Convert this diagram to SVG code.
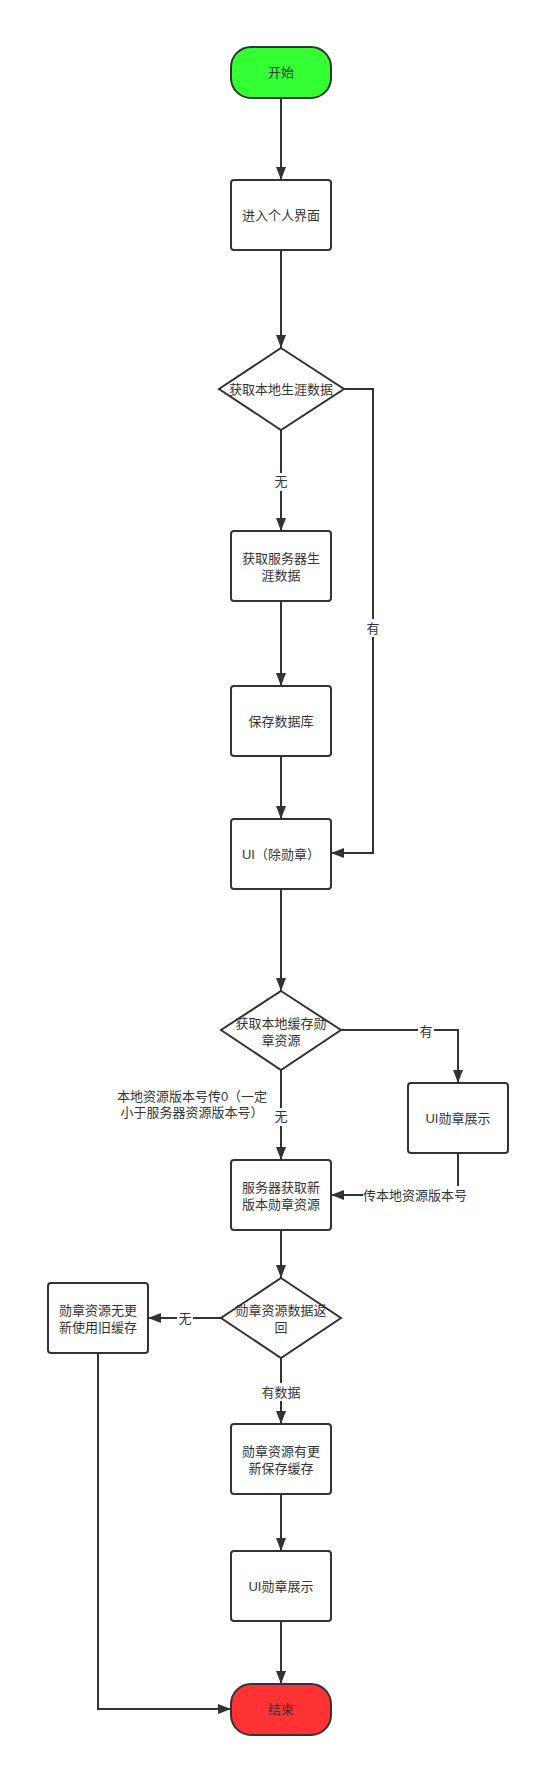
<svg xmlns="http://www.w3.org/2000/svg" width="539" height="1766" viewBox="0 0 539 1766">
<style>
.n{fill:#fff;stroke:#333;stroke-width:2}
.t{font-family:"Liberation Sans","Noto Sans CJK SC",sans-serif;font-size:13px;fill:#333;text-anchor:middle;dominant-baseline:central}
.c{fill:none;stroke:#333;stroke-width:2}
.lb{fill:#fff}
</style>
<defs>
<marker id="a" markerWidth="10" markerHeight="10" viewBox="0 0 10 10" refX="10" refY="5" orient="auto" markerUnits="userSpaceOnUse">
<path d="M0,0 L10,5 L0,10 Z" fill="#333"/>
</marker>
<marker id="ah" markerWidth="13" markerHeight="10" viewBox="0 0 13 10" refX="13" refY="5" orient="auto" markerUnits="userSpaceOnUse">
<path d="M0,0 L13,5 L0,10 Z" fill="#333"/>
</marker>
</defs>
<rect width="539" height="1766" fill="#fff"/>
<g id="connectors">
<path class="c" marker-end="url(#ah)" d="M281,98 V180"/>
<path class="c" marker-end="url(#ah)" d="M281,250 V348"/>
<path class="c" marker-end="url(#ah)" d="M281,430 V531"/>
<path class="c" marker-end="url(#ah)" d="M344,389 H373 V853 H331"/>
<path class="c" marker-end="url(#ah)" d="M281,601 V686"/>
<path class="c" marker-end="url(#ah)" d="M281,756 V819"/>
<path class="c" marker-end="url(#ah)" d="M281,889 V991"/>
<path class="c" marker-end="url(#ah)" d="M341,1030 H458 V1083"/>
<path class="c" marker-end="url(#ah)" d="M281,1070 V1160"/>
<path class="c" marker-end="url(#ah)" d="M458,1153 V1195 H331"/>
<path class="c" marker-end="url(#ah)" d="M281,1230 V1278"/>
<path class="c" marker-end="url(#ah)" d="M221,1318 H148"/>
<path class="c" marker-end="url(#ah)" d="M281,1358 V1424"/>
<path class="c" marker-end="url(#ah)" d="M281,1494 V1551"/>
<path class="c" marker-end="url(#ah)" d="M281,1621 V1684"/>
<path class="c" marker-end="url(#ah)" d="M98,1353 V1709 H231"/>
<rect class="lb" x="273" y="473" width="16" height="18"/>
<text class="t" x="281" y="481">无</text>
<rect class="lb" x="365" y="619" width="16" height="18"/>
<text class="t" x="373" y="628">有</text>
<rect class="lb" x="418" y="1022" width="16" height="18"/>
<text class="t" x="426" y="1031">有</text>
<rect class="lb" x="273" y="1108" width="16" height="18"/>
<text class="t" x="281" y="1116">无</text>
<text class="t" x="192" y="1096">本地资源版本号传0（一定</text>
<text class="t" x="192" y="1112">小于服务器资源版本号）</text>
<rect class="lb" x="363" y="1186" width="104" height="18"/>
<text class="t" x="415" y="1195">传本地资源版本号</text>
<rect class="lb" x="177" y="1309" width="16" height="18"/>
<text class="t" x="185" y="1318">无</text>
<rect class="lb" x="261" y="1383" width="40" height="18"/>
<text class="t" x="281" y="1392">有数据</text>
</g>
<g id="start"><rect x="231" y="47" width="100" height="51" rx="20" fill="#33ff33" stroke="#333" stroke-width="2"/><text class="t" x="281" y="72.5">开始</text></g>
<g id="enter"><rect class="n" x="231" y="180" width="100" height="70" rx="3"/><text class="t" x="281" y="215">进入个人界面</text></g>
<g id="d1"><path class="n" d="M281,348 L344,389 L281,430 L219,389 Z"/><text class="t" x="281" y="389">获取本地生涯数据</text></g>
<g id="server"><rect class="n" x="231" y="531" width="100" height="70" rx="3"/><text class="t" x="281" y="558">获取服务器生</text><text class="t" x="281" y="575">涯数据</text></g>
<g id="savedb"><rect class="n" x="231" y="686" width="100" height="70" rx="3"/><text class="t" x="281" y="721">保存数据库</text></g>
<g id="ui1"><rect class="n" x="231" y="819" width="100" height="70" rx="3"/><text class="t" x="281" y="854">UI（除勋章）</text></g>
<g id="d2"><path class="n" d="M281,991 L341,1030 L281,1070 L221,1030 Z"/><text class="t" x="281" y="1023">获取本地缓存勋</text><text class="t" x="281" y="1040">章资源</text></g>
<g id="uimedal"><rect class="n" x="408" y="1083" width="100" height="70" rx="3"/><text class="t" x="458" y="1118">UI勋章展示</text></g>
<g id="fetchnew"><rect class="n" x="231" y="1160" width="100" height="70" rx="3"/><text class="t" x="281" y="1187">服务器获取新</text><text class="t" x="281" y="1204">版本勋章资源</text></g>
<g id="d3"><path class="n" d="M281,1278 L341,1318 L281,1358 L221,1318 Z"/><text class="t" x="281" y="1310">勋章资源数据返</text><text class="t" x="281" y="1327">回</text></g>
<g id="noupdate"><rect class="n" x="48" y="1283" width="100" height="70" rx="3"/><text class="t" x="98" y="1310">勋章资源无更</text><text class="t" x="98" y="1327">新使用旧缓存</text></g>
<g id="update"><rect class="n" x="231" y="1424" width="100" height="70" rx="3"/><text class="t" x="281" y="1451">勋章资源有更</text><text class="t" x="281" y="1468">新保存缓存</text></g>
<g id="uimedal2"><rect class="n" x="231" y="1551" width="100" height="70" rx="3"/><text class="t" x="281" y="1586">UI勋章展示</text></g>
<g id="end"><rect x="231" y="1684" width="100" height="51" rx="20" fill="#ff3333" stroke="#333" stroke-width="2"/><text class="t" x="281" y="1709.5">结束</text></g>
</svg>
